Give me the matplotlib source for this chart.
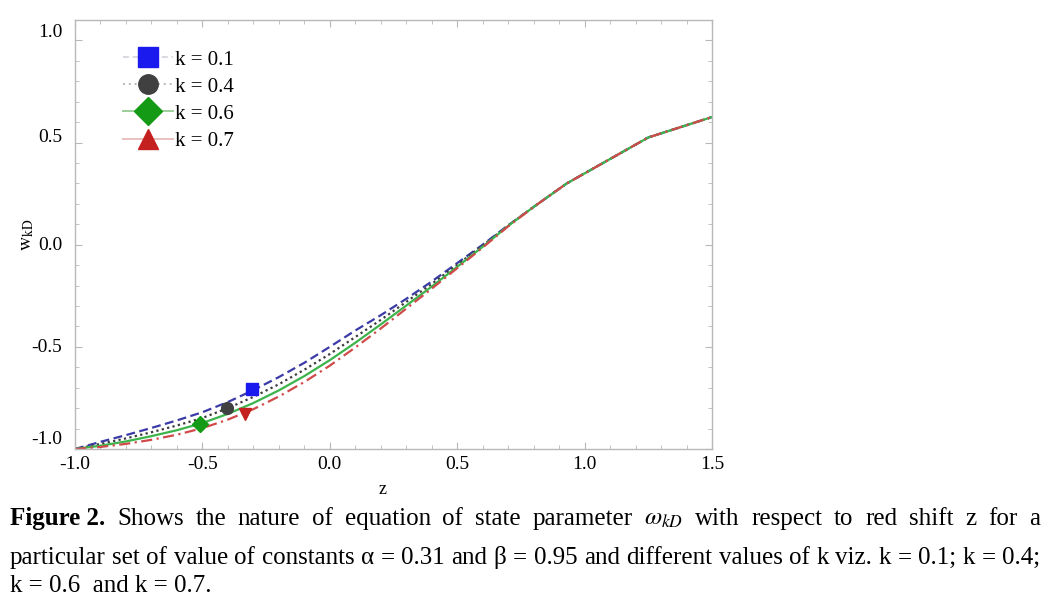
import matplotlib
matplotlib.use('Agg')
import matplotlib.pyplot as plt
from matplotlib.lines import Line2D
from matplotlib.ticker import MultipleLocator
from matplotlib.transforms import ScaledTranslation

plt.rcParams['font.family'] = ['Liberation Serif', 'DejaVu Serif']
plt.rcParams['mathtext.fontset'] = 'stix'

# ---------------- data ----------------
z = [-1.0, -0.9, -0.8, -0.7, -0.6, -0.5, -0.4, -0.3, -0.2, -0.1, 0.0,
     0.1, 0.2, 0.3, 0.4, 0.5, 0.6, 0.7, 0.8, 0.93, 1.25, 1.5]
w_k01 = [-1.000, -0.965, -0.932, -0.897, -0.860, -0.820, -0.770, -0.712, -0.648, -0.578, -0.500,
         -0.420, -0.345, -0.265, -0.180, -0.090, 0.000, 0.095, 0.185, 0.300, 0.525, 0.625]
w_k04 = [-1.000, -0.975, -0.948, -0.918, -0.885, -0.848, -0.800, -0.745, -0.683, -0.612, -0.535,
         -0.452, -0.368, -0.280, -0.192, -0.098, -0.004, 0.094, 0.185, 0.300, 0.525, 0.625]
w_k06 = [-1.000, -0.984, -0.963, -0.937, -0.908, -0.873, -0.828, -0.775, -0.713, -0.643, -0.565,
         -0.480, -0.390, -0.298, -0.205, -0.108, -0.010, 0.092, 0.185, 0.300, 0.525, 0.625]
w_k07 = [-1.000, -0.990, -0.975, -0.955, -0.930, -0.898, -0.856, -0.805, -0.743, -0.672, -0.592,
         -0.503, -0.410, -0.313, -0.215, -0.115, -0.014, 0.090, 0.185, 0.300, 0.525, 0.625]
labels = ['k = 0.1', 'k = 0.4', 'k = 0.6', 'k = 0.7']
marker_z = [-0.306, -0.404, -0.51, -0.334]
marker_w = [-0.706, -0.800, -0.877, -0.828]

x_ticks = [-1.0, -0.5, 0.0, 0.5, 1.0, 1.5]
y_ticks = [-1.0, -0.5, 0.0, 0.5, 1.0]

caption_line1 = ['Figure 2.', 'Shows', 'the', 'nature', 'of', 'equation', 'of', 'state', 'parameter',
                 r'$\omega_{kD}$', 'with', 'respect', 'to', 'red', 'shift', 'z', 'for', 'a']
caption_line2 = 'particular set of value of constants α = 0.31 and β = 0.95 and different values of k viz. k = 0.1; k = 0.4;'
caption_line3 = 'k = 0.6  and k = 0.7.'

# ---------------- styling ----------------
series = [w_k01, w_k04, w_k06, w_k07]
line_colors = ['#3b3ba8', '#3a3a3a', '#3cb44b', '#d04a4a']
line_styles = [(0, (4, 2)), (0, (1, 1.5)), '-', (0, (5, 2, 1, 2))]
marker_styles = ['s', 'o', 'D', 'v']
legend_markers = ['s', 'o', 'D', '^']
marker_colors = ['#1a1aee', '#404040', '#159a15', '#c42020']
legend_line_colors = ['#d8d8e0', '#b8b8b8', '#9ccf9c', '#e8c0c0']
legend_line_styles = [(0, (3, 2)), (0, (1, 2)), '-', '-']
ytick_label_raise_px = [11, 1, 1, 7, 10]

W, H = 1045, 600
fig = plt.figure(figsize=(W / 100, H / 100), dpi=100)
ax = fig.add_axes([75 / W, 1 - 449 / H, 637 / W, 429 / H])

for w, c, ls in zip(series, line_colors, line_styles):
    ax.plot(z, w, color=c, ls=ls, lw=1.6)
for mz, mw, m, c in zip(marker_z, marker_w, marker_styles, marker_colors):
    ax.plot([mz], [mw], marker=m, color=c, markersize=8.5, ls='none')

ax.set_xlim(-1.0, 1.5)
ax.set_ylim(-1.0, 1.1)
ax.set_xticks(x_ticks)
ax.set_yticks(y_ticks)
ax.set_xticklabels([f'{t:.1f}' for t in x_ticks])
ax.set_yticklabels([f'{t:.1f}' for t in y_ticks])
ax.xaxis.set_minor_locator(MultipleLocator(0.1))
ax.yaxis.set_minor_locator(MultipleLocator(0.1))
ax.tick_params(which='both', direction='in', top=True, right=True, color='#b8b8b8',
               labelsize=14, labelcolor='black')
ax.tick_params(which='major', length=5, width=0.8)
ax.tick_params(which='minor', length=3, width=0.6)
ax.tick_params(axis='x', pad=5)
ax.tick_params(axis='y', pad=9)
for s in ax.spines.values():
    s.set_color('#b8b8b8')
    s.set_linewidth(1.0)
for lab, dy in zip(ax.get_yticklabels(), ytick_label_raise_px):
    lab.set_transform(lab.get_transform() + ScaledTranslation(0, dy / 100, fig.dpi_scale_trans))

ax.set_xlabel('z', fontsize=13)
ax.xaxis.set_label_coords((383 - 75) / 637, -0.075)
ax.set_ylabel(r'$\mathrm{w}_{\mathrm{kD}}$', fontsize=14)
ax.yaxis.set_label_coords(-0.062, (449 - 235) / 429)

handles = []
for lc, ls, m, mc in zip(legend_line_colors, legend_line_styles, legend_markers, marker_colors):
    handles.append(Line2D([], [], color=lc, ls=ls, lw=1.4, marker=m, markersize=14,
                          markerfacecolor=mc, markeredgecolor=mc))
ax.legend(handles, labels, loc='upper left', bbox_to_anchor=((123 - 75) / 637, 1 - (50 - 20) / 429),
          frameon=False, fontsize=15, handlelength=2.4, handletextpad=0.08,
          labelspacing=0.36, borderpad=0, borderaxespad=0)

# ---------------- caption (justified) ----------------
fs = 18
renderer = fig.canvas.get_renderer()


def place_justified(words, y_px, styles, x0=10, x1=1040, justify=True):
    texts = []
    for wd, st in zip(words, styles):
        t = fig.text(0, 1 - y_px / H, wd, fontsize=fs, va='baseline', ha='left', **st)
        texts.append(t)
    widths = [t.get_window_extent(renderer).width for t in texts]
    if justify and len(texts) > 1:
        gap = (x1 - x0 - sum(widths)) / (len(texts) - 1)
    else:
        gap = fs * 1.39 * 0.25
    x = x0
    for t, wdt in zip(texts, widths):
        t.set_x(x / W)
        x += wdt + gap


styles1 = [dict(fontweight='bold')] + [dict()] * (len(caption_line1) - 1)
place_justified(caption_line1, 525, styles1)
words2 = caption_line2.split(' ')
place_justified(words2, 564, [dict()] * len(words2))
fig.text(10 / W, 1 - 592 / H, caption_line3, fontsize=fs, va='baseline', ha='left')

fig.savefig('out.png', dpi=100)
